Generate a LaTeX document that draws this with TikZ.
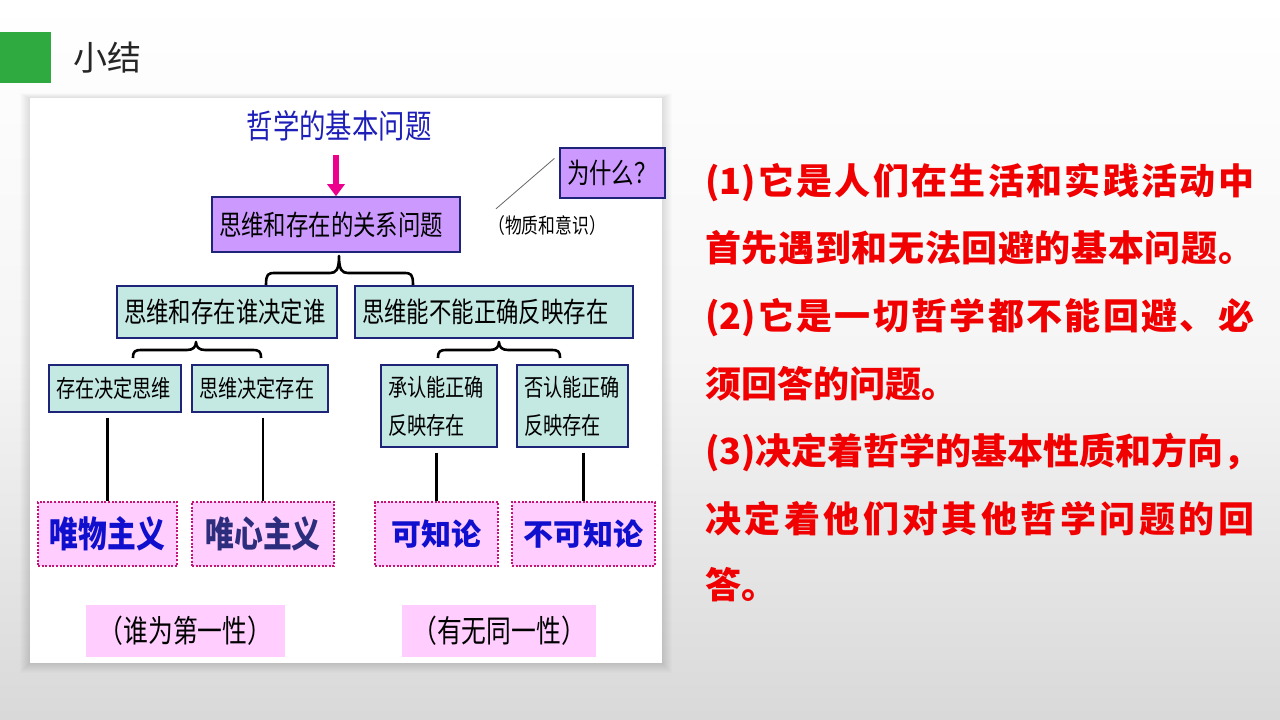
\documentclass[tikz,border=0pt]{standalone}
\usepackage{fontspec}
\setmainfont{Noto Sans CJK SC}
\newfontfamily\narrow[FakeStretch=0.8]{Noto Sans CJK SC}
\usetikzlibrary{arrows.meta}

\definecolor{headgreen}{RGB}{46,170,64}
\definecolor{lilac}{RGB}{204,153,255}
\definecolor{mint}{RGB}{196,232,226}
\definecolor{navy}{RGB}{30,36,120}
\definecolor{rose}{RGB}{255,206,255}
\definecolor{dotred}{RGB}{196,20,120}
\definecolor{titleblue}{RGB}{30,30,185}
\definecolor{matblue}{RGB}{15,15,205}
\definecolor{idblue}{RGB}{45,45,125}
\definecolor{redtext}{RGB}{240,0,0}

\newcommand{\redfont}{\bfseries\fontsize{36}{40}\selectfont}
% spread the characters of one line over the full text width
\def\spreadit#1{#1\futurelet\next\spreadcheck}
\def\spreadcheck{\ifx\next\relax\expandafter\gobbleone\else\hfil\expandafter\spreadit\fi}
\def\gobbleone#1{}
\newcommand{\fullline}[1]{\makebox[549pt][s]{\spreadit#1\relax}}

\begin{document}
\begin{tikzpicture}[x=1pt,y=-1pt]

  \useasboundingbox (0,0) rectangle (1280,720);
  \shade[top color=white, bottom color=black!15, middle color=black!4] (0,0) rectangle (1280,720);

  % header
  \fill[headgreen] (0,32) rectangle (51,83);
  \node[anchor=west, inner sep=0pt, text=black!85, font=\fontsize{34}{40}\selectfont] (head) at (73,58) {小结};

  % panel
  \foreach \i in {1,...,10}
    \fill[black, opacity=.012] (30-\i,98-\i/2) rectangle (662+\i,663+\i);
  \fill[white] (30,98) rectangle (662,663);

  \node[inner sep=0pt, text=titleblue, font=\narrow\fontsize{33}{36}\selectfont] (title) at (339,126) {哲学的基本问题};

  \begin{scope}[every node/.style={draw=navy, fill=lilac, line width=1.6pt, inner xsep=7pt, align=left, font=\narrow\fontsize{28}{32}\selectfont}]
    \node[text width=234pt, minimum height=55pt] (main) at (336,224.5) {思维和存在的关系问题};
    \node[text width=91pt, minimum height=50pt, line width=1.2pt] (why) at (612.5,173) {为什么？};
  \end{scope}

  \node[inner sep=2pt, font=\narrow\fontsize{21}{24}\selectfont] (note) at (547,226) {（物质和意识）};

  \draw[magenta, line width=6pt, -{Triangle[width=17pt,length=12pt]}, shorten <=13pt] (main.north |- title.south) -- (main.north);
  \draw[black!60, line width=.8pt] ([xshift=-5pt,yshift=-11pt]why.north west) -- ([xshift=10pt,yshift=5pt]note.north west);

  \begin{scope}[every node/.style={draw=navy, fill=mint, line width=1.2pt, inner xsep=7pt, align=left, minimum height=52pt, font=\narrow\fontsize{28}{32}\selectfont}]
    \node[text width=206pt] (who) at (227,312) {思维和存在谁决定谁};
    \node[text width=264pt] (can) at (494,312) {思维能不能正确反映存在};
  \end{scope}

  \begin{scope}[every node/.style={draw=navy, fill=mint, line width=1.2pt, inner xsep=7pt, align=left, font=\narrow\fontsize{24}{38}\selectfont}]
    \node[text width=118pt, minimum height=47pt] (c1) at (115,388.5) {存在决定思维};
    \node[text width=122pt, minimum height=47pt] (c2) at (260,388.5) {思维决定存在};
    \node[text width=102pt, minimum height=82pt] (c3) at (439,406) {承认能正确\\反映存在};
    \node[text width=97pt, minimum height=82pt] (c4) at (572.5,406) {否认能正确\\反映存在};
  \end{scope}

  % braces
  \foreach \xa/\xm/\xb/\yb/\ya/\yt in {266/339/413/285/273/256, 133/196/261/358/350/342, 438/499/560/358/350/342}
    \draw[line width=2.6pt, line join=round] (\xa,\yb) .. controls (\xa,\ya+1) and (\xa+2,\ya) .. (\xa+9,\ya) -- (\xm-9,\ya) .. controls (\xm-3,\ya) and (\xm,\ya-3) .. (\xm,\yt) .. controls (\xm,\ya-3) and (\xm+3,\ya) .. (\xm+9,\ya) -- (\xb-9,\ya) .. controls (\xb-2,\ya) and (\xb,\ya+1) .. (\xb,\yb);

  \begin{scope}[every node/.style={draw=dotred, fill=rose, line width=2.2pt, dash pattern=on 2pt off 1.6pt, minimum height=64pt, font=\bfseries\fontsize{30}{34}\selectfont}]
    \node[minimum width=139pt, text=matblue, font=\narrow\bfseries\fontsize{36}{40}\selectfont] (mat) at (107.5,534) {唯物主义};
    \node[minimum width=142pt, text=idblue, font=\narrow\bfseries\fontsize{36}{40}\selectfont] (ide) at (263,534) {唯心主义};
    \node[minimum width=123pt, text=matblue] (kno) at (436.5,534) {可知论};
    \node[minimum width=143pt, text=matblue] (agn) at (583.5,534) {不可知论};
  \end{scope}

  \foreach \c/\m in {c1/mat, c2/ide, c3/kno, c4/agn}
    \draw[line width=2.4pt, shorten <=5pt] (\c.south -| \m.north) -- (\m.north);

  \begin{scope}[every node/.style={fill=rose, minimum height=52pt, font=\narrow\fontsize{31}{34}\selectfont}]
    \node[minimum width=199pt] (first) at (185.5,631) {（谁为第一性）};
    \node[minimum width=194pt] (ident) at (499,631) {（有无同一性）};
  \end{scope}

  % summary text
  \begin{scope}[every node/.style={anchor=west, inner sep=0pt, text=redtext, font=\redfont}]
    \node (r1) at (705,183) {\fullline{{(1)}它是人们在生活和实践活动中}};
    \node (r2) at (705,248) {\fullline{首先遇到和无法回避的基本问题。}};
    \node (r3) at (705,318) {\fullline{{(2)}它是一切哲学都不能回避、必}};
    \node (r4) at (705,384) {须回答的问题。};
    \node (r5) at (705,452) {\fullline{{(3)}决定着哲学的基本性质和方向，}};
    \node (r6) at (705,519) {\fullline{决定着他们对其他哲学问题的回}};
    \node (r7) at (705,585) {答。};
  \end{scope}

\end{tikzpicture}
\end{document}
